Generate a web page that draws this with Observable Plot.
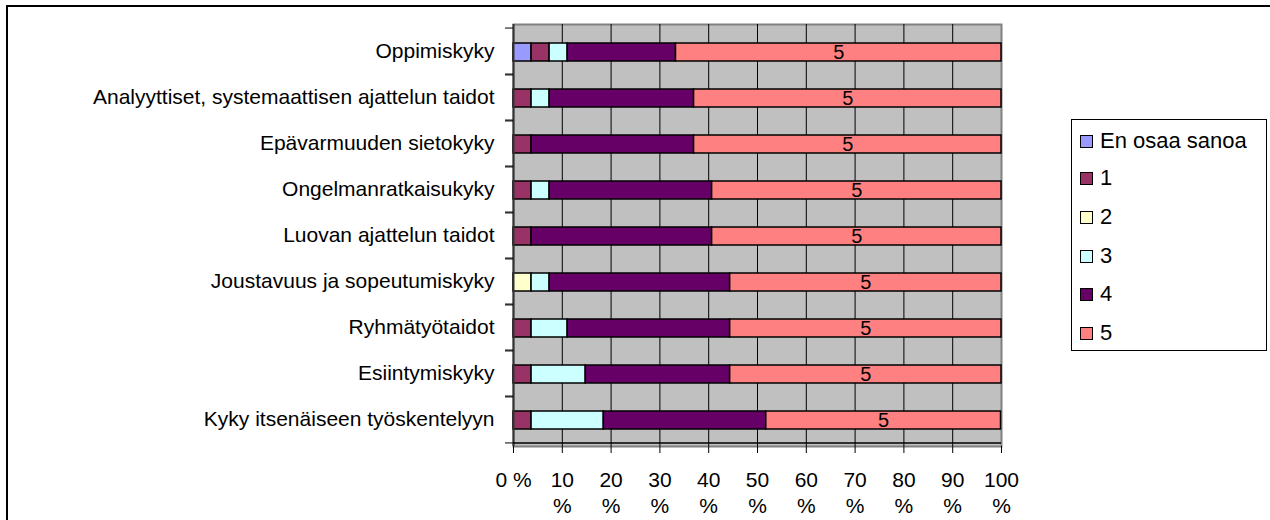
<!DOCTYPE html>
<html>
<head>
<meta charset="utf-8">
<script src="https://cdn.jsdelivr.net/npm/d3@7"></script>
<script src="https://cdn.jsdelivr.net/npm/@observablehq/plot@0.6"></script>
<style>
  html, body { margin: 0; padding: 0; background: #fff; overflow: hidden; }
  body { width: 1270px; height: 520px; position: relative; font-family: "Liberation Sans", Arial, sans-serif; }
  #frame { position: absolute; left: 6px; top: 5px; width: 1300px; height: 600px; border: 2px solid #000; box-sizing: border-box; }
  #chart { position: absolute; left: 0; top: 0; }
  #legend { position: absolute; left: 1071px; top: 119px; width: 196px; height: 232px; border: 1px solid #000; box-sizing: border-box; background: #fff; }
  .item { position: absolute; left: 8px; height: 26px; display: flex; align-items: center; font-size: 22px; color: #000; white-space: nowrap; }
  .sw { width: 11px; height: 11px; border: 1.5px solid #000; margin-right: 7px; }
</style>
</head>
<body>
<div id="frame"></div>
<div id="chart"></div>
<div id="legend"></div>
<script>
const categories = [
  "Oppimiskyky",
  "Analyyttiset, systemaattisen ajattelun taidot",
  "Epävarmuuden sietokyky",
  "Ongelmanratkaisukyky",
  "Luovan ajattelun taidot",
  "Joustavuus ja sopeutumiskyky",
  "Ryhmätyötaidot",
  "Esiintymiskyky",
  "Kyky itsenäiseen työskentelyyn"
];
const seriesNames = ["En osaa sanoa", "1", "2", "3", "4", "5"];
const seriesColors = ["#9999FF", "#993366", "#FFFFCC", "#CCFFFF", "#660066", "#FF8080"];
const valuesEOS = [3.7, 0, 0, 0, 0, 0, 0, 0, 0];
const values1   = [3.7, 3.7, 3.7, 3.7, 3.7, 0, 3.7, 3.7, 3.7];
const values2   = [0, 0, 0, 0, 0, 3.7, 0, 0, 0];
const values3   = [3.7, 3.7, 0, 3.7, 0, 3.7, 7.4, 11.1, 14.8];
const values4   = [22.2, 29.6, 33.3, 33.3, 37.0, 37.0, 33.3, 29.6, 33.3];
const values5   = [66.7, 63.0, 63.0, 59.3, 59.3, 55.6, 55.6, 55.6, 48.1];
const xTicks = [0, 10, 20, 30, 40, 50, 60, 70, 80, 90, 100];
const gridTicks = [10, 20, 30, 40, 50, 60, 70, 80, 90];

const seriesValues = [valuesEOS, values1, values2, values3, values4, values5];
const table = [];
seriesNames.forEach((s, i) => {
  categories.forEach((c, j) => {
    const v = seriesValues[i][j];
    if (v > 0) table.push({category: c, series: s, value: v});
  });
});

const halfBand = (520 - 24 - 74) / categories.length / 2;

const chart = Plot.plot({
  width: 1270,
  height: 520,
  marginLeft: 513,
  marginRight: 269,
  marginTop: 24,
  marginBottom: 74,
  style: {fontFamily: "'Liberation Sans', Arial, sans-serif", fontSize: "21px", background: "transparent", color: "#000"},
  x: {domain: [0, 100], axis: null},
  y: {domain: categories, padding: 0, axis: null},
  color: {domain: seriesNames, range: seriesColors},
  marks: [
    Plot.frame({fill: "#C0C0C0", stroke: "#808080", strokeWidth: 2}),
    Plot.ruleX(gridTicks, {stroke: "#000", strokeWidth: 1}),
    Plot.barX(table, Plot.stackX({
      x: "value", y: "category", fill: "series", order: seriesNames,
      stroke: "#000", strokeWidth: 1.5, insetTop: 15, insetBottom: 13
    })),
    Plot.text(table, Plot.stackX({
      x: "value", y: "category", z: "series", order: seriesNames,
      text: d => d.series === "5" ? "5" : null,
      fill: "#000", fontSize: 20, dy: 1
    })),
    Plot.ruleX([0], {stroke: "#333", strokeWidth: 2}),
    Plot.ruleY([categories[categories.length - 1]], {dy: halfBand, stroke: "#000", strokeWidth: 1.5}),
    Plot.axisY({tickSize: 0, tickPadding: 19, fontSize: 21, label: null}),
    Plot.axisY({tickSize: 8, text: null, dy: -halfBand, stroke: "#000", label: null}),
    Plot.axisY({tickSize: 8, text: null, dy: halfBand, stroke: "#000", label: null}),
    Plot.axisX({
      ticks: xTicks, tickSize: 7, tickPadding: 16, fontSize: 21, lineHeight: 1.2, label: null,
      tickFormat: d => d === 0 ? "0 %" : d + "\n%"
    })
  ]
});
document.getElementById("chart").appendChild(chart);

const legend = document.getElementById("legend");
const itemTops = [140, 177, 216, 255, 293, 332];
seriesNames.forEach((s, i) => {
  const it = document.createElement("div");
  it.className = "item";
  it.style.top = (itemTops[i] - 119 - 13) + "px";
  const sw = document.createElement("div");
  sw.className = "sw";
  sw.style.background = seriesColors[i];
  const tx = document.createElement("span");
  tx.textContent = s;
  it.appendChild(sw);
  it.appendChild(tx);
  legend.appendChild(it);
});
</script>
</body>
</html>
